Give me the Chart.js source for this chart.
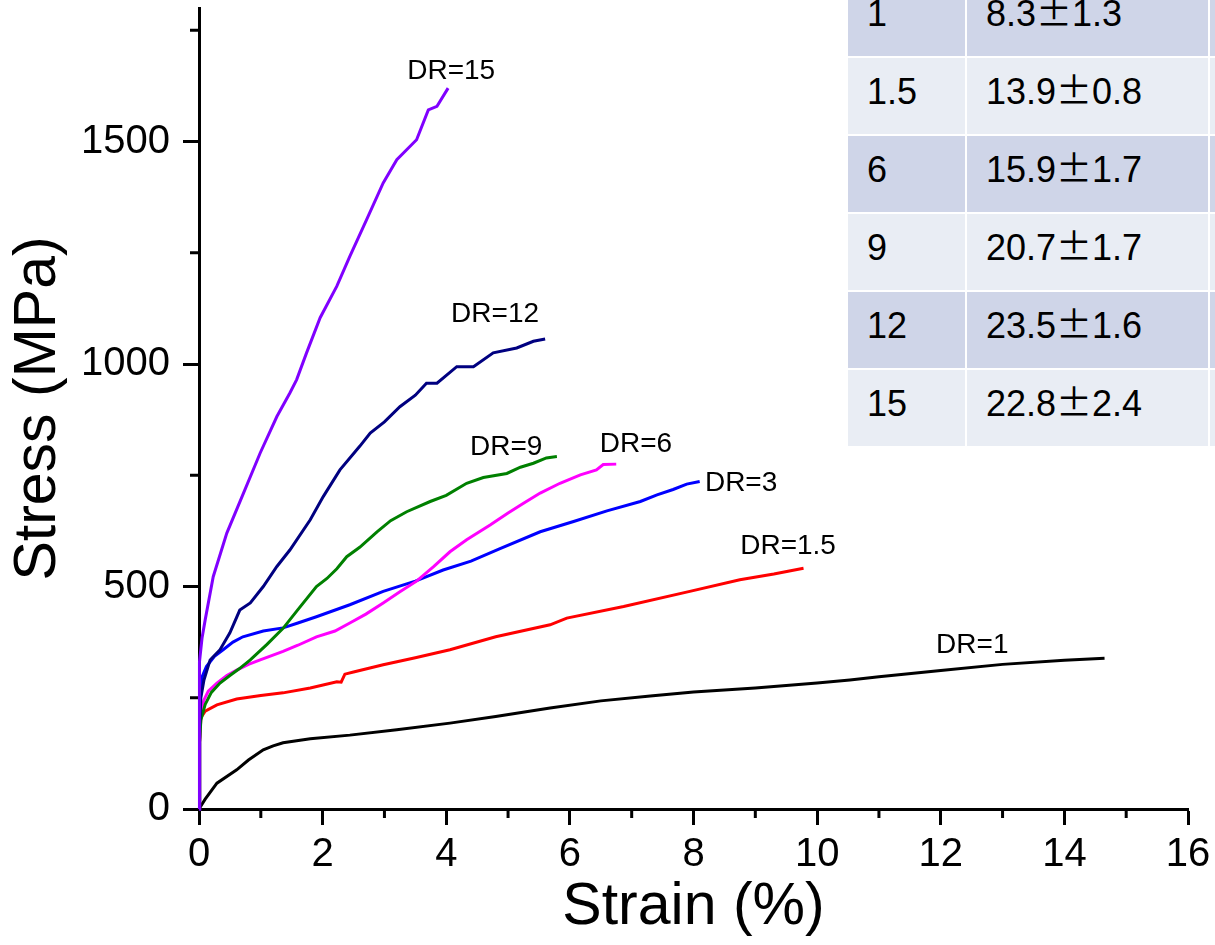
<!DOCTYPE html>
<html>
<head>
<meta charset="utf-8">
<script src="https://cdn.jsdelivr.net/npm/chart.js@4.4.1/dist/chart.umd.min.js"></script>
<style>
  html, body { margin: 0; padding: 0; background: #fff; overflow: hidden; }
  #wrap { position: relative; width: 1215px; height: 945px; overflow: hidden; }
  #chart { position: absolute; left: 0; top: 0; }
  .cell {
    position: absolute; box-sizing: border-box; height: 76px;
    padding: 16px 0 0 19px; color: #000; white-space: nowrap; overflow: hidden;
    font: 36px/36px "Liberation Sans", Arial, sans-serif;
  }
  .pm { font-family: "Noto Sans CJK JP", "Noto Sans CJK SC", sans-serif; line-height: 0; }
  .dark { background: #cfd5e8; }
  .light { background: #e9edf4; }
</style>
</head>
<body>
<div id="wrap">
  <canvas id="chart" width="1215" height="945"></canvas>
  <div id="table"></div>
</div>
<script>
// === DATA (strain in %, stress in MPa) ===
const dr1Strain = [0, 0.1, 0.29, 0.61, 0.8, 1.04, 1.2, 1.36, 1.8, 2.44, 3.2, 4.06, 4.8, 5.68, 6.5, 7.3, 8.0, 9.0, 10.0, 10.53, 11.0, 12.0, 13.0, 14.0, 14.65];
const dr1Stress = [0, 22, 58, 88, 110, 133, 142, 149, 158, 166, 178, 193, 208, 227, 243, 254, 263, 272, 283, 290, 297, 311, 325, 334, 339];

const dr15Strain = [0, 0.01, 0.03, 0.1, 0.29, 0.61, 1.0, 1.36, 1.8, 2.23, 2.3, 2.36, 2.5, 2.98, 3.5, 4.06, 4.8, 5.68, 5.95, 6.87, 7.94, 8.75, 9.3, 9.78];
const dr15Stress = [0, 150, 205, 220, 234, 247, 255, 261, 272, 286, 285, 303, 308, 324, 340, 358, 387, 414, 429, 455, 489, 515, 528, 541];

const dr3Strain = [0, 0.01, 0.03, 0.05, 0.12, 0.25, 0.39, 0.55, 0.71, 1.04, 1.36, 1.6, 1.9, 2.44, 2.98, 3.5, 3.95, 4.4, 4.87, 5.52, 6.06, 6.6, 7.14, 7.41, 7.67, 7.89, 8.1];
const dr3Stress = [0, 200, 270, 297, 320, 343, 358, 375, 387, 400, 407, 418, 432, 459, 489, 512, 537, 557, 585, 623, 646, 670, 691, 706, 718, 730, 736];

const dr6Strain = [0, 0.01, 0.03, 0.08, 0.15, 0.29, 0.45, 0.61, 0.8, 0.99, 1.36, 1.6, 1.9, 2.2, 2.44, 2.7, 2.98, 3.25, 3.52, 3.8, 4.06, 4.33, 4.71, 5.0, 5.25, 5.52, 5.84, 6.17, 6.43, 6.54, 6.75];
const dr6Stress = [0, 150, 215, 245, 265, 283, 300, 312, 325, 335, 354, 368, 387, 400, 418, 438, 463, 488, 512, 545, 578, 605, 638, 665, 687, 710, 732, 751, 762, 774, 775];

const dr9Strain = [0, 0.01, 0.03, 0.1, 0.2, 0.34, 0.5, 0.65, 0.83, 1.1, 1.36, 1.6, 1.9, 2.07, 2.23, 2.39, 2.6, 2.88, 3.1, 3.36, 3.74, 4.0, 4.33, 4.6, 4.98, 5.2, 5.41, 5.62, 5.79];
const dr9Stress = [0, 150, 200, 235, 262, 283, 300, 315, 335, 370, 406, 448, 500, 518, 540, 567, 588, 623, 648, 668, 691, 705, 732, 745, 754, 768, 777, 789, 792];

const dr12Strain = [0, 0.01, 0.03, 0.08, 0.18, 0.34, 0.5, 0.66, 0.83, 1.04, 1.26, 1.47, 1.8, 2.01, 2.28, 2.6, 2.77, 3.0, 3.25, 3.5, 3.68, 3.85, 4.17, 4.44, 4.76, 5.14, 5.41, 5.6];
const dr12Stress = [0, 180, 250, 290, 335, 358, 396, 447, 463, 500, 545, 582, 650, 702, 762, 815, 845, 870, 904, 930, 957, 957, 994, 994, 1025, 1036, 1051, 1056];

const dr15hStrain = [0, 0.005, 0.01, 0.05, 0.1, 0.23, 0.45, 0.72, 0.99, 1.26, 1.47, 1.58, 1.74, 1.96, 2.23, 2.44, 2.71, 2.98, 3.2, 3.52, 3.71, 3.85, 4.03];
const dr15hStress = [0, 200, 330, 385, 425, 522, 620, 710, 800, 882, 935, 965, 1025, 1104, 1175, 1242, 1324, 1407, 1459, 1504, 1571, 1579, 1620];

const seriesNames = ['DR=15', 'DR=12', 'DR=9', 'DR=6', 'DR=3', 'DR=1.5', 'DR=1'];
const seriesStrain = [dr15hStrain, dr12Strain, dr9Strain, dr6Strain, dr3Strain, dr15Strain, dr1Strain];
const seriesStress = [dr15hStress, dr12Stress, dr9Stress, dr6Stress, dr3Stress, dr15Stress, dr1Stress];
const seriesColors = ['#8000ff', '#000080', '#008000', '#ff00ff', '#0000ff', '#ff0000', '#000000'];

// label anchors, in axis units
const labelStrain = [4.08, 4.79, 4.97, 7.07, 8.77, 9.53, 12.51];
const labelStress = [1657, 1111, 812, 820, 733, 591, 368];

const xMajorTicks = [0, 2, 4, 6, 8, 10, 12, 14, 16];
const xMinorTicks = [1, 3, 5, 7, 9, 11, 13, 15];
const yMajorTicks = [0, 500, 1000, 1500];
const yMinorTicks = [250, 750, 1250, 1750];

// table (top rows cut off in the original)
const tableDR = ['1', '1.5', '6', '9', '12', '15'];
const tableMean = ['8.3', '13.9', '15.9', '20.7', '23.5', '22.8'];
const tableError = ['1.3', '0.8', '1.7', '1.7', '1.6', '2.4'];

const FONT = '"Liberation Sans", Arial, sans-serif';

// === TABLE ===
function buildTable() {
  const box = document.getElementById('table');
  const colLeft = [848, 967, 1210];
  const colWidth = [117, 241, 60];
  tableDR.forEach((dr, i) => {
    const top = -20 + i * 78;
    const cls = i % 2 === 0 ? 'dark' : 'light';
    for (let c = 0; c < 3; c++) {
      const d = document.createElement('div');
      d.className = 'cell ' + cls;
      d.style.left = colLeft[c] + 'px';
      d.style.top = top + 'px';
      d.style.width = colWidth[c] + 'px';
      if (c === 0) d.textContent = dr;
      if (c === 1) d.innerHTML = tableMean[i] + '<span class="pm">±</span>' + tableError[i];
      box.appendChild(d);
    }
  });
}
buildTable();

// === PLUGINS ===
const minorTicks = {
  id: 'minorTicks',
  beforeDatasetsDraw(chart) {
    const { ctx, scales: { x, y } } = chart;
    ctx.save();
    ctx.strokeStyle = '#000';
    ctx.lineWidth = 3;
    ctx.beginPath();
    xMinorTicks.forEach(v => {
      const px = x.getPixelForValue(v);
      ctx.moveTo(px, y.bottom);
      ctx.lineTo(px, y.bottom + 9);
    });
    yMinorTicks.forEach(v => {
      const py = y.getPixelForValue(v);
      ctx.moveTo(x.left, py);
      ctx.lineTo(x.left - 9, py);
    });
    ctx.stroke();
    ctx.restore();
  }
};

const curveLabels = {
  id: 'curveLabels',
  afterDatasetsDraw(chart) {
    const { ctx, scales: { x, y } } = chart;
    ctx.save();
    ctx.fillStyle = '#000';
    ctx.font = '28px ' + FONT;
    ctx.textAlign = 'center';
    ctx.textBaseline = 'middle';
    seriesNames.forEach((name, i) => {
      ctx.fillText(name, x.getPixelForValue(labelStrain[i]), y.getPixelForValue(labelStress[i]));
    });
    ctx.restore();
  }
};

// === CHART ===
const datasets = seriesNames.map((name, i) => ({
  label: name,
  data: seriesStrain[i].map((s, j) => ({ x: s, y: seriesStress[i][j] })),
  borderColor: seriesColors[i],
  borderWidth: 3,
  showLine: true,
  pointRadius: 0,
  tension: 0,
  clip: false
}));

new Chart(document.getElementById('chart'), {
  type: 'scatter',
  data: { datasets },
  options: {
    responsive: false,
    animation: false,
    layout: { padding: { left: 0, top: 8, right: 27, bottom: 0 } },
    plugins: { legend: { display: false }, tooltip: { enabled: false } },
    scales: {
      x: {
        type: 'linear', min: 0, max: 16,
        afterBuildTicks: s => { s.ticks = xMajorTicks.map(v => ({ value: v })); },
        afterFit: s => { s.height = 136; s.paddingLeft = 0; s.paddingRight = 0; },
        ticks: { color: '#000', font: { family: FONT, size: 40 }, padding: 6, maxRotation: 0, autoSkip: false, callback: v => String(v) },
        grid: { drawOnChartArea: false, drawTicks: true, tickLength: 16, tickWidth: 3, tickColor: '#000' },
        border: { color: '#000', width: 3 },
        title: { display: true, text: 'Strain (%)', color: '#000', font: { family: FONT, size: 59 }, padding: { top: 0, bottom: 2 } }
      },
      y: {
        type: 'linear', min: 0, max: 1800,
        afterBuildTicks: s => { s.ticks = yMajorTicks.map(v => ({ value: v })); },
        afterFit: s => { s.width = 199; s.paddingTop = 0; s.paddingBottom = 0; },
        ticks: { color: '#000', font: { family: FONT, size: 40 }, padding: 13, autoSkip: false, callback: v => String(v) },
        grid: { drawOnChartArea: false, drawTicks: true, tickLength: 16, tickWidth: 3, tickColor: '#000' },
        border: { color: '#000', width: 3 },
        title: { display: true, text: 'Stress (MPa)', color: '#000', font: { family: FONT, size: 59 }, padding: { top: 3, bottom: 0 } }
      }
    }
  },
  plugins: [minorTicks, curveLabels]
});
</script>
</body>
</html>
